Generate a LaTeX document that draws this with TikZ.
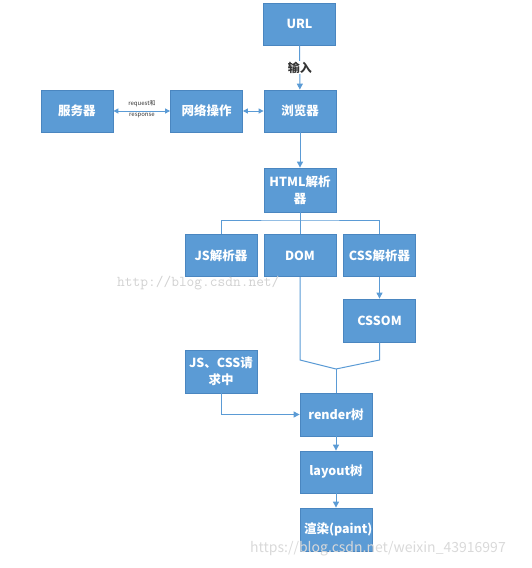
\documentclass[tikz,border=0pt]{standalone}
\usepackage{fontspec}
\newfontfamily\cjk{Noto Sans CJK SC}
\setmainfont{Noto Sans CJK SC}
\usetikzlibrary{arrows.meta}
\definecolor{bl}{HTML}{5B9BD5}
\definecolor{bd}{HTML}{4A86C0}
\definecolor{ln}{HTML}{5B9BD5}
\tikzset{
  box/.style={draw=bd, line width=0.8pt, fill=bl, text=white, minimum width=72pt, minimum height=42pt,
    inner sep=3pt, text width=64pt, align=center, font=\cjk\bfseries\fontsize{12.5}{17}\selectfont},
  conn/.style={draw=ln, line width=1pt},
  arr/.style={conn, -{Triangle[length=6pt,width=6pt]}},
  darr/.style={conn, {Triangle[length=5pt,width=5pt]}-{Triangle[length=5pt,width=5pt]}},
  lbl/.style={font=\cjk\bfseries\fontsize{12}{14}\selectfont, text=black!80},
  tiny/.style={font=\cjk\fontsize{6}{7}\selectfont, text=black!80, inner sep=0pt},
  wm/.style={text=black!18, inner sep=0pt}
}
\begin{document}
\begin{tikzpicture}[x=1pt,y=-1pt]
\useasboundingbox (0,0) rectangle (531,568);
\node[box] (url) at (299.5,24) {URL};
\node[box] (br) at (300,111) {浏览器};
\node[box] (net) at (206.5,111) {网络操作};
\node[box] (srv) at (77,111) {服务器};
\node[box, minimum height=44pt] (html) at (300,190) {HTML解析\\器};
\node[box] (js) at (221,255.5) {JS解析器};
\node[box] (dom) at (300,255.5) {DOM};
\node[box] (css) at (379.5,255.5) {CSS解析器};
\node[box, minimum height=43pt] (cssom) at (379.5,320.5) {CSSOM};
\node[box, minimum height=43pt] (req) at (221,371.5) {JS、CSS请\\求中};
\node[box, minimum height=43pt] (render) at (336,414.5) {render树};
\node[box] (layout) at (336,472) {layout树};
\node[box, minimum height=43pt] (paint) at (336,529.5) {渲染(paint)};

% watermarks
\node[wm, font=\ttfamily\fontsize{15}{15}\selectfont, anchor=west] (wm1) at (117,283) {http://blog.csdn.net/};
\node[wm, text=white!85!black, font=\fontsize{14}{14}\selectfont, anchor=west] (wm2) at (250,549) {https://blog.csdn.net/weixin\_43916997};

% connectors
\draw[arr] (url) -- node[lbl, fill=white, inner sep=1pt] (in) {输入} (br);
\draw[darr] (net) -- (br);
\draw[darr] (srv) -- (net);
\node[tiny] (rq) at (142,104) {request和};
\node[tiny] (rs) at (142,115.5) {response};
\draw[arr] (br) -- (html);
\coordinate (hb) at (300,220);
\draw[conn] (html.south) -- (dom.north);
\draw[conn] (js.north) |- (hb) -| (css.north);
\draw[arr] (css) -- (cssom);
\coordinate (j) at (336,369);
\coordinate (dj) at (300,360);
\coordinate (cj) at (379.5,360);
\draw[conn] (dom.south) -- (dj) -- (j);
\draw[conn] (cssom.south) -- (cj) -- (j);
\draw[conn] (j) -- (render.north);
\draw[arr] (req.south) |- (render.west);
\draw[arr] (render) -- (layout);
\draw[arr] (layout) -- (paint);
\end{tikzpicture}
\end{document}
